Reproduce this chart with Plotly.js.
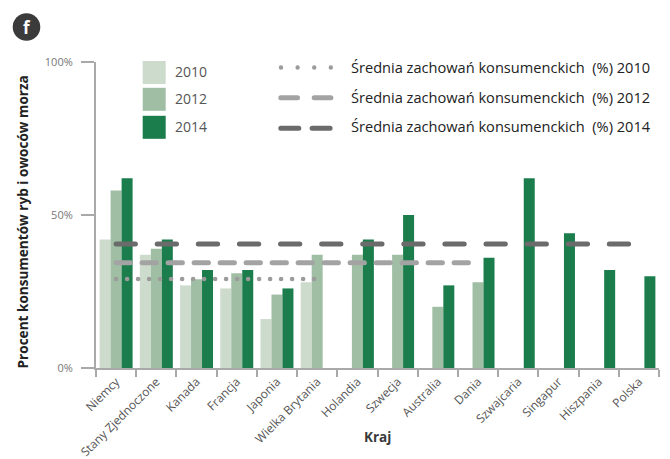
<!DOCTYPE html>
<html>
<head>
<meta charset="utf-8">
<script src="https://cdn.plot.ly/plotly-3.0.1.min.js"></script>
<style>
html,body{margin:0;padding:0;background:#fff;}
#chart{width:670px;height:459px;}
</style>
</head>
<body>
<div id="chart"></div>
<script>
// ---- data ----
const categories = ['Niemcy','Stany Zjednoczone','Kanada','Francja','Japonia','Wielka Brytania','Holandia','Szwecja','Australia','Dania','Szwajcaria','Singapur','Hiszpania','Polska'];
const seriesNames = ['2010','2012','2014'];
const values2010 = [42,37,27,26,16,28,null,null,null,null,null,null,null,null];
const values2012 = [58,39,29,31,24,37,37,37,20,28,null,null,null,null];
const values2014 = [62,42,32,32,26,null,42,50,27,36,62,44,32,30];
const avgNames = ['Średnia zachowań konsumenckich  (%) 2010','Średnia zachowań konsumenckich  (%) 2012','Średnia zachowań konsumenckich  (%) 2014'];
const avg2010 = 29.1, avg2010Span = ['Niemcy','Wielka Brytania'];
const avg2012 = 34.4, avg2012Span = ['Niemcy','Dania'];
const avg2014 = 40.5, avg2014Span = ['Niemcy','Polska'];
const yTickVals = [0,50,100];
const yTickText = ['0%','50%','100%'];
const yTitle = 'Procent konsumentów ryb i owoców morza';
const xTitle = 'Kraj';
const badge = 'f';

// ---- styles ----
const barColors = ['#cddbcd','#9fbea4','#1b7c4c'];
const lineColors = ['#9b9b9b','#a3a3a3','#6b6b6b'];
const FONT = 'Open Sans, sans-serif';

const W = 670, H = 459, ML = 96, MR = 11, MT = 62, MB = 91;
const PW = W - ML - MR, PH = H - MT - MB;
const px = x => (x - ML) / PW;
const py = y => (H - MB - y) / PH;

const bars = [values2010, values2012, values2014].map((v, i) => ({
  type: 'bar', name: seriesNames[i], x: categories, y: v,
  marker: {color: barColors[i], line: {width: 0}},
  showlegend: false, hoverinfo: 'x+y'
}));

function avgLine(val, span, color, dash, width) {
  return {
    type: 'scatter', mode: 'lines', x: span, y: [val, val],
    line: {color: color, width: width, dash: dash},
    showlegend: false, hoverinfo: 'y'
  };
}
const lines = [
  avgLine(avg2010, avg2010Span, lineColors[0], '0.01px,10.99px', 4.6),
  avgLine(avg2012, avg2012Span, lineColors[1], '14.3px,11.7px', 5),
  avgLine(avg2014, avg2014Span, lineColors[2], '19.3px,21.8px', 5)
];

const shapes = [];
const annotations = [];
const boxRowY = [72.5, 99.3, 127.3];
seriesNames.forEach((n, i) => {
  shapes.push({type:'rect', xref:'paper', yref:'paper',
    x0: px(142.7), x1: px(165.7), y0: py(boxRowY[i] - 11.5), y1: py(boxRowY[i] + 11.5),
    fillcolor: barColors[i], line: {width: 0}});
  annotations.push({xref:'paper', yref:'paper', x: px(172.5), y: py(boxRowY[i] - 0.8),
    xanchor:'left', yanchor:'middle', showarrow:false, text: n,
    font:{family: FONT, size: 14, color:'#555'}});
});
const lineRowY = [67.5, 97.8, 128.3];
const textRowY = [67.2, 96.8, 126.4];
const legDash = [['0.01px,16.6px', 4.4, 281, 331.1], ['16.7px,16.7px', 5, 280.8, 331], ['18px,13.3px', 5, 280.8, 330.2]];
avgNames.forEach((n, i) => {
  shapes.push({type:'line', xref:'paper', yref:'paper',
    x0: px(legDash[i][2]), x1: px(legDash[i][3]), y0: py(lineRowY[i]), y1: py(lineRowY[i]),
    line: {color: lineColors[i], width: legDash[i][1], dash: legDash[i][0]}});
  annotations.push({xref:'paper', yref:'paper', x: px(348.7), y: py(textRowY[i]),
    xanchor:'left', yanchor:'middle', showarrow:false, text: n,
    font:{family: FONT, size: 14.6, color:'#222'}});
});
shapes.push({type:'circle', xref:'paper', yref:'paper',
  x0: px(12.7), x1: px(40.3), y0: py(13.2), y1: py(40.8),
  fillcolor:'#3b3b3b', line:{width:0}});
annotations.push({xref:'paper', yref:'paper', x: px(26.5), y: py(27.5),
  xanchor:'center', yanchor:'middle', showarrow:false, text:'<b>' + badge + '</b>',
  font:{family: FONT, size: 17, color:'#fff'}});
annotations.push({xref:'paper', yref:'paper', x: px(22), y: py(222.5),
  xanchor:'center', yanchor:'middle', showarrow:false, textangle:-90,
  text:'<b>' + yTitle + '</b>', font:{family: FONT, size: 13.6, color:'#222'}});
annotations.push({xref:'paper', yref:'paper', x: px(377.3), y: py(436.5),
  xanchor:'center', yanchor:'middle', showarrow:false,
  text:'<b>' + xTitle + '</b>', font:{family: FONT, size: 13.5, color:'#3a3a3a'}});

const layout = {
  width: W, height: H,
  margin: {l: ML, r: MR, t: MT, b: MB, pad: 0},
  paper_bgcolor: '#fff', plot_bgcolor: '#fff',
  barmode: 'group', bargap: 0.18, bargroupgap: 0,
  showlegend: false,
  font: {family: FONT, color: '#555'},
  xaxis: {
    type: 'category', categoryorder: 'array', categoryarray: categories,
    range: [-0.5, categories.length - 0.5], fixedrange: true,
    showline: true, linecolor: '#a9a9a9', linewidth: 2,
    ticks: 'outside', tickson: 'boundaries', ticklen: 7, tickwidth: 2, tickcolor: '#a9a9a9',
    tickangle: -45, tickfont: {family: FONT, size: 12, color: '#555'},
    showgrid: false, zeroline: false, automargin: false
  },
  yaxis: {
    range: [0, 100], fixedrange: true,
    tickvals: yTickVals, ticktext: yTickText,
    showline: true, linecolor: '#a9a9a9', linewidth: 2,
    ticks: 'outside', ticklen: 13, tickwidth: 2, tickcolor: '#a9a9a9',
    tickfont: {family: FONT, size: 11, color: '#777'}, ticklabelstandoff: 6,
    showgrid: false, zeroline: false, automargin: false
  },
  shapes: shapes,
  annotations: annotations
};

Plotly.newPlot('chart', bars.concat(lines), layout, {displayModeBar: false, staticPlot: true}).then(() => {
  document.querySelectorAll('#chart .scatterlayer path.js-line, #chart .shapelayer path').forEach(p => {
    p.style.strokeLinecap = 'round';
  });
});
</script>
</body>
</html>
